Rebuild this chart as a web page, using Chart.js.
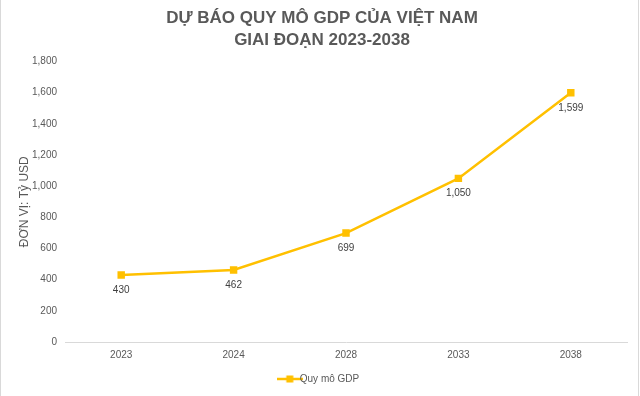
<!DOCTYPE html>
<html>
<head>
<meta charset="utf-8">
<script src="https://cdn.jsdelivr.net/npm/chart.js@4"></script>
<style>
  html, body { margin: 0; padding: 0; background: #fff; }
  #wrap { width: 640px; height: 396px; position: relative; }
</style>
</head>
<body>
<div id="wrap"><canvas id="myChart"></canvas></div>
<script>
const years = ['2023', '2024', '2028', '2033', '2038'];
const gdpValues = [430, 462, 699, 1050, 1599];
const seriesLabel = 'Quy mô GDP';
const titleLines = ['DỰ BÁO QUY MÔ GDP CỦA VIỆT NAM', 'GIAI ĐOẠN 2023-2038'];
const yTitle = 'ĐƠN VỊ: Tỷ USD';

const gold = '#FFC000';
const grey = '#595959';

// legend marker: line with a square in the middle
function legendMarker() {
    const c = document.createElement('canvas');
    c.width = 26; c.height = 8;
    const ctx = c.getContext('2d');
    ctx.strokeStyle = gold;
    ctx.lineWidth = 2.5;
    ctx.beginPath();
    ctx.moveTo(0, 4);
    ctx.lineTo(26, 4);
    ctx.stroke();
    ctx.fillStyle = gold;
    ctx.fillRect(9.5, 0.5, 7, 7);
    return c;
}

const dataLabels = {
    id: 'dataLabels',
    afterDatasetsDraw(chart) {
        const ctx = chart.ctx;
        const meta = chart.getDatasetMeta(0);
        ctx.save();
        ctx.font = '10px "Liberation Sans", Arial, sans-serif';
        ctx.fillStyle = '#404040';
        ctx.textAlign = 'center';
        ctx.textBaseline = 'middle';
        meta.data.forEach((pt, i) => {
            ctx.fillText(gdpValues[i].toLocaleString('en-US'), pt.x, pt.y + 15);
        });
        ctx.restore();
    }
};

const frame = {
    id: 'frame',
    afterDraw(chart) {
        const ctx = chart.ctx;
        ctx.save();
        ctx.strokeStyle = '#d9d9d9';
        ctx.lineWidth = 1;
        ctx.beginPath();
        ctx.moveTo(0.5, 0);
        ctx.lineTo(0.5, chart.height);
        ctx.moveTo(638.5, 0);
        ctx.lineTo(638.5, chart.height);
        ctx.stroke();
        ctx.restore();
    }
};

const marker = legendMarker();

new Chart(document.getElementById('myChart'), {
    type: 'line',
    data: {
        labels: years,
        datasets: [{
            label: seriesLabel,
            data: gdpValues,
            borderColor: gold,
            backgroundColor: gold,
            borderWidth: 2.5,
            pointStyle: 'rect',
            pointRadius: 3.5,
            pointHoverRadius: 3.5,
            tension: 0,
        }]
    },
    options: {
        responsive: true,
        maintainAspectRatio: false,
        animation: false,
        layout: { padding: { left: 17, right: 13, top: 8, bottom: 2 } },
        plugins: {
            title: {
                display: true,
                text: titleLines,
                color: grey,
                font: { family: '"Liberation Sans", Arial, sans-serif', size: 17, weight: 'bold', lineHeight: 1.25 },
                padding: { top: 0, bottom: 11 },
            },
            legend: {
                position: 'bottom',
                labels: {
                    usePointStyle: true,
                    pointStyle: marker,
                    color: grey,
                    font: { family: '"Liberation Sans", Arial, sans-serif', size: 10 },
                    padding: 6,
                    generateLabels(chart) {
                        return [{
                            text: seriesLabel,
                            pointStyle: marker,
                            fontColor: grey,
                            lineWidth: 0,
                            strokeStyle: gold,
                            fillStyle: gold,
                            datasetIndex: 0,
                        }];
                    }
                }
            },
            tooltip: { enabled: false },
        },
        scales: {
            x: {
                offset: true,
                grid: { display: false, drawTicks: false },
                border: { display: true, color: '#d9d9d9', width: 1 },
                ticks: {
                    color: grey,
                    font: { family: '"Liberation Sans", Arial, sans-serif', size: 10 },
                    padding: 7,
                },
            },
            y: {
                min: 0,
                max: 1800,
                grid: { display: false, drawTicks: false },
                border: { display: false },
                ticks: {
                    stepSize: 200,
                    color: grey,
                    font: { family: '"Liberation Sans", Arial, sans-serif', size: 10 },
                    padding: 8,
                    callback: v => v.toLocaleString('en-US'),
                },
                title: {
                    display: true,
                    text: yTitle,
                    color: grey,
                    font: { family: '"Liberation Sans", Arial, sans-serif', size: 12 },
                    padding: { top: 0, bottom: 4 },
                },
                afterFit(scale) { scale.width = 48; },
            }
        }
    },
    plugins: [dataLabels, frame],
});
</script>
</body>
</html>
